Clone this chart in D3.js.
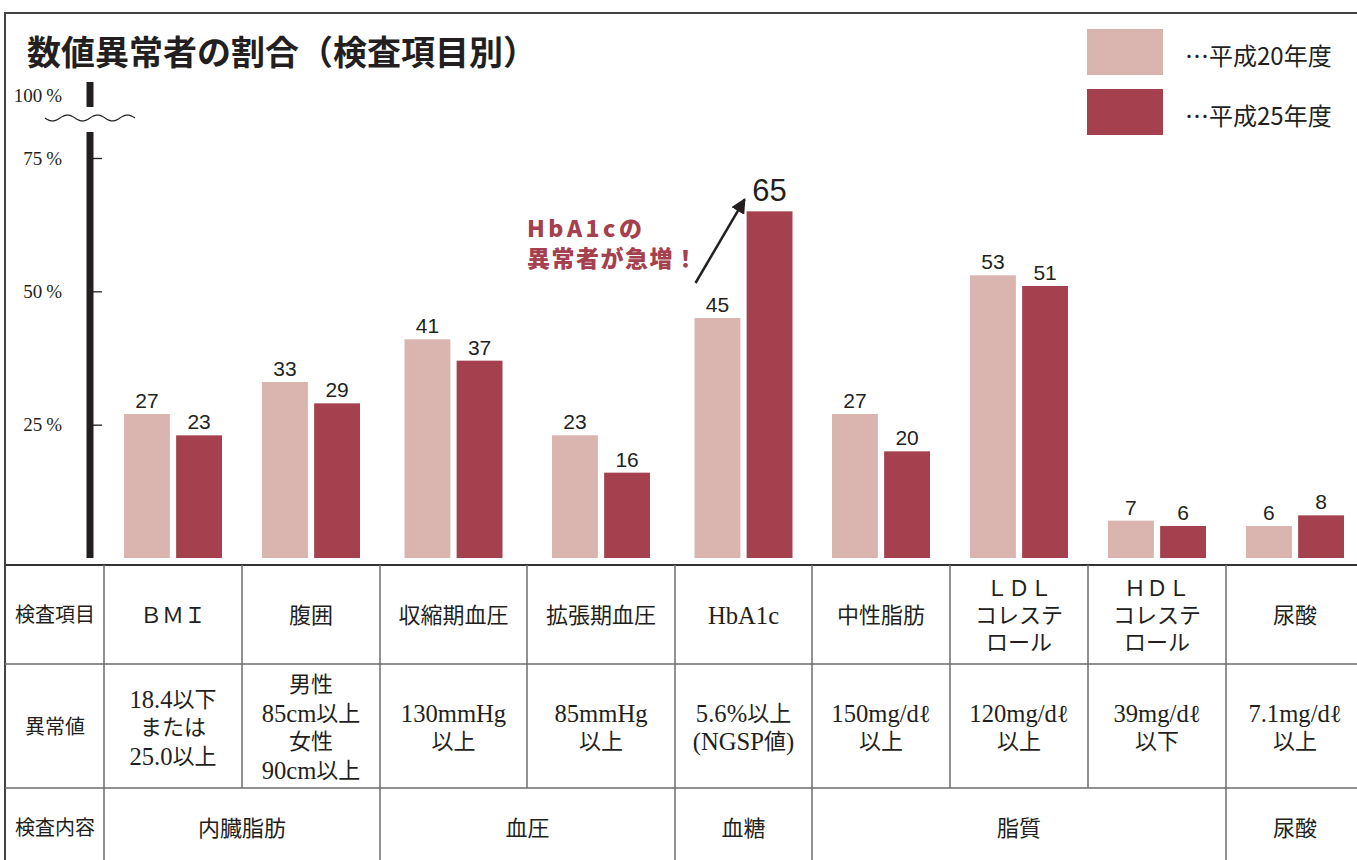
<!DOCTYPE html>
<html>
<head>
<meta charset="utf-8">
<script src="https://cdn.jsdelivr.net/npm/d3@7"></script>
<style>
  body { margin: 0; background: #fff; }
  svg { display: block; }
</style>
</head>
<body>
<div class="module"></div>
<script>

// chart data
const categories = ["BMI", "腹囲", "収縮期血圧", "拡張期血圧", "HbA1c", "中性脂肪", "LDLコレステロール", "HDLコレステロール", "尿酸"];
const series = ["平成20年度", "平成25年度"];
const h20 = [27, 33, 41, 23, 45, 27, 53, 7, 6];
const h25 = [23, 29, 37, 16, 65, 20, 51, 6, 8];
const yTicks = [25, 50, 75];
const breakLabel = "100";

// table texts
const rowLabels = ["検査項目", "異常値", "検査内容"];
const itemLines = [["ＢＭＩ"], ["腹囲"], ["収縮期血圧"], ["拡張期血圧"], ["HbA1c"], ["中性脂肪"],
  ["ＬＤＬ", "コレステ", "ロール"], ["ＨＤＬ", "コレステ", "ロール"], ["尿酸"]];
const limitLines = [["18.4以下", "または", "25.0以上"], ["男性", "85cm以上", "女性", "90cm以上"],
  ["130mmHg", "以上"], ["85mmHg", "以上"], ["5.6%以上", "(NGSP値)"], ["150mg/dℓ", "以上"],
  ["120mg/dℓ", "以上"], ["39mg/dℓ", "以下"], ["7.1mg/dℓ", "以上"]];
const groupNames = ["内臓脂肪", "血圧", "血糖", "脂質", "尿酸"];
const groupSpans = [2, 2, 1, 3, 1];

// layout
const width = 1357, height = 860;
const colEdges = [104, 242, 380, 527, 675, 812, 950, 1088, 1226, 1364];
const colors = ["#dab4af", "#a5404e"];
const sans = "'Noto Sans CJK JP', 'Noto Sans', sans-serif";
const serif = "'Liberation Serif', 'DejaVu Serif', 'Noto Sans CJK JP', serif";
const numFont = "'Liberation Sans', Arial, sans-serif";

const svg = d3.select(".module")
  .append("svg")
    .attr("width", width)
    .attr("height", height);

svg.append("rect").attr("width", width).attr("height", height).attr("fill", "#fff");

// frame
svg.append("path")
  .attr("d", "M5," + height + " V13 H" + width)
  .attr("fill", "none")
  .attr("stroke", "#444")
  .attr("stroke-width", 2);

// title
svg.append("text")
  .attr("x", 27)
  .attr("y", 50)
  .attr("dominant-baseline", "central")
  .style("font-family", sans)
  .style("font-weight", 700)
  .style("font-size", "34px")
  .attr("fill", "#231f20")
  .text("数値異常者の割合（検査項目別）");

// scales
const centers = colEdges.slice(0, -1).map((e, i) => (e + colEdges[i + 1]) / 2);
const x = d3.scaleOrdinal().domain(categories).range(centers);
const xInner = d3.scaleBand().domain(series).range([-49, 49]).paddingInner(0.12);
const y = d3.scaleLinear().domain([0, 75]).range([558, 158]);

// y axis (broken)
const axisX = 90;
svg.append("line").attr("x1", axisX).attr("x2", axisX).attr("y1", y(0)).attr("y2", 132)
  .attr("stroke", "#231f20").attr("stroke-width", 7);
svg.append("line").attr("x1", axisX).attr("x2", axisX).attr("y1", 82).attr("y2", 107)
  .attr("stroke", "#231f20").attr("stroke-width", 7);

const wave = d3.range(0, 91, 1.5).map(t => [45 + t, 118 + 3 * Math.sin(t / 90 * Math.PI * 6)]);
svg.append("path")
  .attr("d", d3.line().curve(d3.curveBasis)(wave))
  .attr("fill", "none")
  .attr("stroke", "#231f20")
  .attr("stroke-width", 1.2);

const yAxis = svg.append("g")
  .attr("transform", "translate(" + axisX + ",0)")
  .attr("font-size", 19)
  .attr("font-family", serif)
  .call(d3.axisLeft(y).tickValues(yTicks).tickSize(12).tickFormat(d => d + "\u2009%"));
yAxis.attr("font-size", 19).attr("font-family", serif);
yAxis.select(".domain").remove();
yAxis.selectAll(".tick line").attr("x2", 12).attr("stroke", "#231f20").attr("stroke-width", 1.3);
yAxis.selectAll(".tick text")
  .attr("x", -28)
  .attr("fill", "#231f20");

svg.append("text")
  .attr("x", axisX - 28)
  .attr("y", 95)
  .attr("text-anchor", "end")
  .attr("dominant-baseline", "central")
  .attr("font-family", serif)
  .attr("font-size", 19)
  .attr("fill", "#231f20")
  .text(breakLabel + "\u2009%");

// bars
const rows = categories.map((c, i) => ({ cat: c, values: [h20[i], h25[i]] }));

const groups = svg.selectAll("g.grp")
  .data(rows)
  .enter()
  .append("g")
    .attr("class", "grp")
    .attr("transform", d => "translate(" + x(d.cat) + ",0)");

groups.selectAll("rect")
  .data(d => d.values.map((v, j) => ({ s: series[j], v: v, j: j, cat: d.cat })))
  .enter()
  .append("rect")
    .attr("x", d => xInner(d.s))
    .attr("y", d => y(d.v))
    .attr("width", xInner.bandwidth())
    .attr("height", d => y(0) - y(d.v))
    .attr("fill", d => colors[d.j]);

groups.selectAll("text")
  .data(d => d.values.map((v, j) => ({ s: series[j], v: v, j: j, cat: d.cat })))
  .enter()
  .append("text")
    .attr("x", d => xInner(d.s) + xInner.bandwidth() / 2)
    .attr("y", d => y(d.v) - (d.cat === "HbA1c" && d.j === 1 ? 10 : 6))
    .attr("text-anchor", "middle")
    .style("font-family", numFont)
    .style("font-size", d => d.cat === "HbA1c" && d.j === 1 ? "31px" : "21px")
    .attr("fill", "#231f20")
    .text(d => d.v);

// annotation
const hx = x("HbA1c");
const defs = svg.append("defs");
defs.append("marker")
  .attr("id", "arrowhead")
  .attr("viewBox", "0 0 10 10")
  .attr("refX", 9).attr("refY", 5)
  .attr("markerWidth", 6).attr("markerHeight", 6)
  .attr("orient", "auto")
  .append("path").attr("d", "M0,0 L10,5 L0,10 Z").attr("fill", "#231f20");

svg.append("line")
  .attr("x1", hx + xInner(series[0]) + 1)
  .attr("y1", y(h20[4]) - 35)
  .attr("x2", hx + xInner(series[1]) - 2)
  .attr("y2", y(h25[4]) - 12)
  .attr("stroke", "#231f20")
  .attr("stroke-width", 2.5)
  .attr("marker-end", "url(#arrowhead)");

const note = svg.append("g")
  .style("font-family", sans)
  .style("font-weight", 900)
  .style("font-size", "23px")
  .attr("fill", "#a5404e");
note.append("text").attr("x", 527).attr("y", 227).attr("dominant-baseline", "central")
  .attr("letter-spacing", "3.5px").text("HbA1cの");
note.append("text").attr("x", 527).attr("y", 257).attr("dominant-baseline", "central")
  .attr("letter-spacing", "1.5px").text("異常者が急増！");

// legend
const legend = svg.selectAll("g.legend")
  .data(series)
  .enter()
  .append("g")
    .attr("class", "legend")
    .attr("transform", (d, i) => "translate(1087," + (29 + i * 60) + ")");
legend.append("rect").attr("width", 76).attr("height", 46).attr("fill", (d, i) => colors[i]);
legend.append("text")
  .attr("x", 98)
  .attr("y", 25)
  .attr("dominant-baseline", "central")
  .style("font-family", sans)
  .style("font-size", "24px")
  .attr("fill", "#231f20")
  .text(d => "…" + d);

// table
const tTop = 565, r1 = 664, r2 = 788;
const lineColor = "#6d6d6d";

svg.append("line").attr("x1", 5).attr("x2", width).attr("y1", tTop).attr("y2", tTop)
  .attr("stroke", "#333").attr("stroke-width", 2);
[r1, r2].forEach(yy => {
  svg.append("line").attr("x1", 5).attr("x2", width).attr("y1", yy).attr("y2", yy)
    .attr("stroke", lineColor).attr("stroke-width", 1.5);
});

// vertical lines, rows 1-2
colEdges.forEach(e => {
  svg.append("line").attr("x1", e).attr("x2", e).attr("y1", tTop).attr("y2", r2)
    .attr("stroke", lineColor).attr("stroke-width", 1.5);
});
// vertical lines, row 3 (groups)
let acc = 0;
const groupEdges = [colEdges[0]];
groupSpans.forEach(s => { acc += s; groupEdges.push(colEdges[acc]); });
groupEdges.forEach(e => {
  svg.append("line").attr("x1", e).attr("x2", e).attr("y1", r2).attr("y2", height)
    .attr("stroke", lineColor).attr("stroke-width", 1.5);
});

// latin runs a bit larger than the CJK runs, like the mincho original
function cellText(cx, cy, lines, lh, size) {
  lines.forEach((l, i) => {
    const t = svg.append("text")
      .attr("x", cx)
      .attr("y", cy + (i - (lines.length - 1) / 2) * lh)
      .attr("text-anchor", "middle")
      .attr("dominant-baseline", "central")
      .style("font-family", serif)
      .style("font-size", size + "px")
      .attr("fill", "#231f20");
    l.split(/([\x20-\x7E\u2113]+)/).filter(p => p.length).forEach(p => {
      const latin = /^[\x20-\x7E\u2113]+$/.test(p);
      t.append("tspan")
        .style("font-size", (latin ? size * 1.12 : size) + "px")
        .text(p);
    });
  });
}

const rowCenters = [(tTop + r1) / 2, (r1 + r2) / 2 + 1, (r2 + height) / 2 + 4];
rowLabels.forEach((l, i) => cellText(55, rowCenters[i], [l], 0, 20));

categories.forEach((c, i) => {
  cellText(x(c), rowCenters[0], itemLines[i], 27, 22);
  cellText(x(c), rowCenters[1], limitLines[i], 28.5, 22);
});

groupNames.forEach((g, i) => {
  cellText((groupEdges[i] + groupEdges[i + 1]) / 2, rowCenters[2], [g], 0, 22);
});

</script>
</body>
</html>
